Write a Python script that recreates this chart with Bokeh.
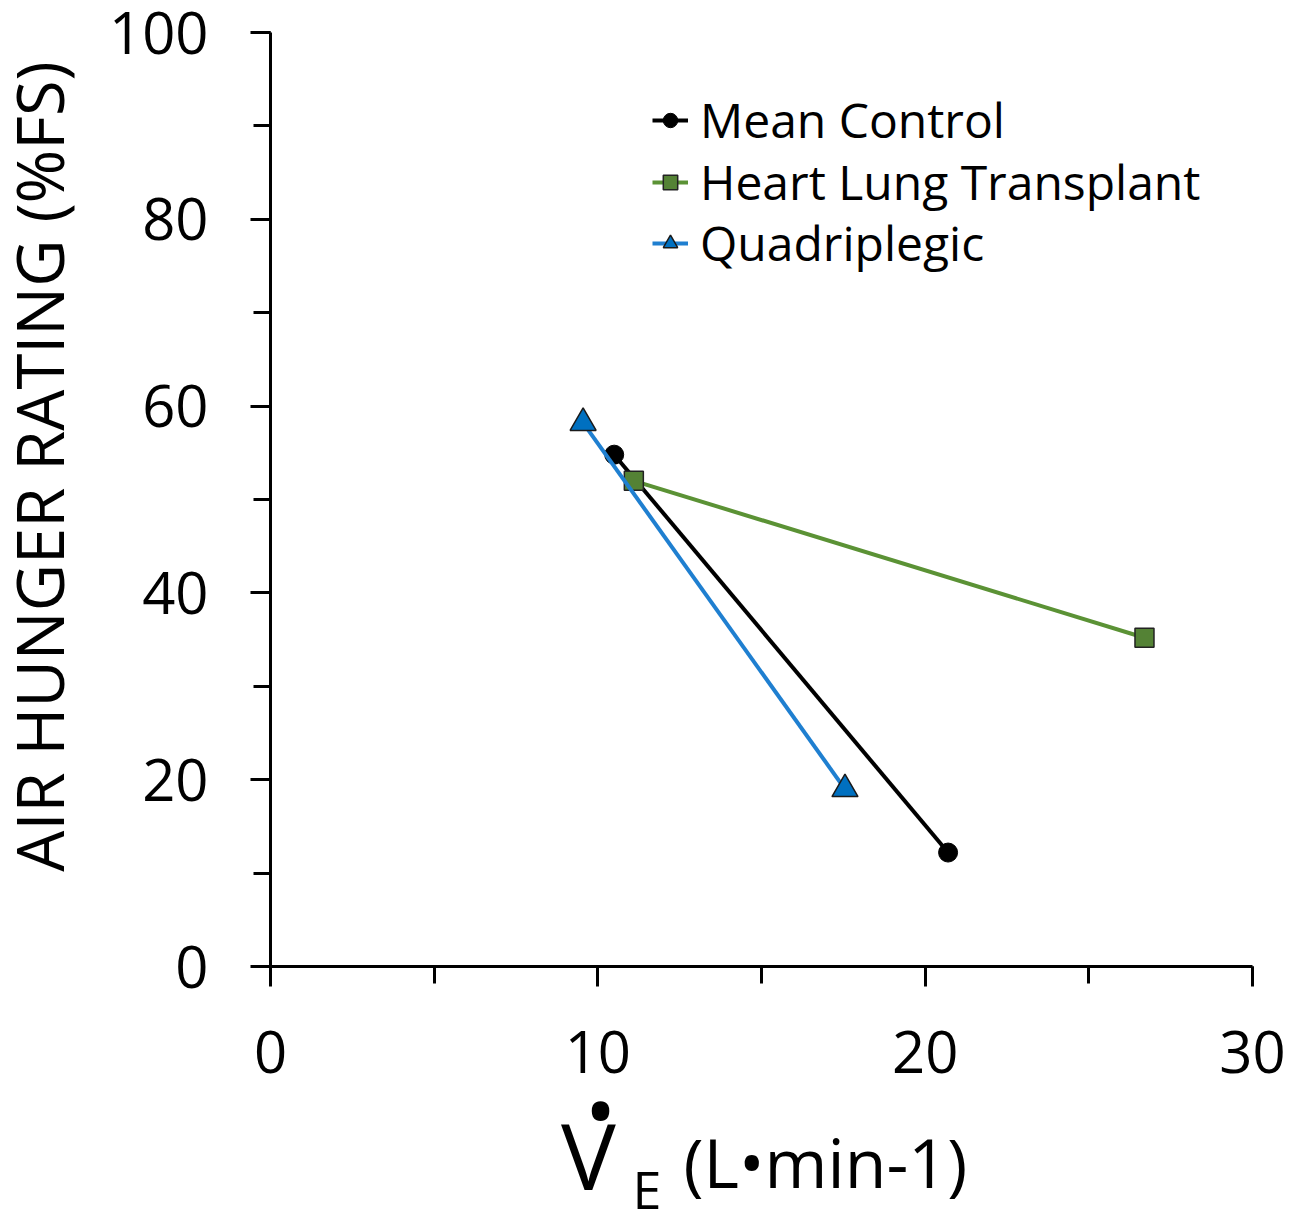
import math
from bokeh.plotting import figure
from bokeh.models import Range1d, SingleIntervalTicker, Label, Legend, LegendItem
from bokeh.embed import file_html
from bokeh.resources import INLINE

FONT = "Open Sans"

# data
control_x = [10.5, 20.7]
control_y = [54.8, 12.2]
hlt_x = [11.1, 26.7]
hlt_y = [52.0, 35.2]
quad_x = [9.55, 17.55]
quad_y = [58.2, 19.0]
series_names = ["Mean Control", "Heart Lung Transplant", "Quadriplegic"]

x_ticks_interval = 10
y_ticks_interval = 20
x_lo, x_hi = 0, 30
y_lo, y_hi = 0, 100

# geometry: the frame fills the whole canvas; axes sit at x=0 / y=0
W, H = 1303, 1216
AX_L, AX_R, AX_T, AX_B = 270, 1252, 32, 966     # pixel box of the axes
sx = (AX_R - AX_L) / (x_hi - x_lo)
sy = (AX_B - AX_T) / (y_hi - y_lo)
xr = Range1d(x_lo - AX_L / sx, x_hi + (W - AX_R) / sx)
yr = Range1d(y_lo - (H - AX_B) / sy, y_hi + AX_T / sy)

def dx(px):
    return xr.start + px / sx
def dy(py):
    return yr.end - py / sy

p = figure(width=W, height=H, frame_width=W, frame_height=H,
           x_range=xr, y_range=yr,
           output_backend="svg", toolbar_location=None, title=None,
           min_border=0, min_border_left=0, min_border_right=0,
           min_border_top=0, min_border_bottom=0)
p.outline_line_color = None
p.xgrid.visible = False
p.ygrid.visible = False
p.background_fill_color = "white"
p.border_fill_color = "white"

p.xaxis.ticker = SingleIntervalTicker(interval=x_ticks_interval, num_minor_ticks=2)
p.yaxis.ticker = SingleIntervalTicker(interval=y_ticks_interval, num_minor_ticks=2)
p.xaxis.fixed_location = y_lo
p.yaxis.fixed_location = x_lo
p.xaxis.bounds = (x_lo, x_hi)
p.yaxis.bounds = (y_lo, y_hi)
for ax in (p.xaxis, p.yaxis):
    ax.axis_line_width = 3
    ax.axis_line_color = "black"
    ax.major_tick_line_width = 3
    ax.minor_tick_line_width = 3
    ax.major_tick_line_color = "black"
    ax.minor_tick_line_color = "black"
    ax.major_tick_in = 0
    ax.minor_tick_in = 0
    ax.major_tick_out = 20
    ax.minor_tick_out = 17
    ax.major_label_text_font = FONT
    ax.major_label_text_font_size = "58px"
    ax.major_label_text_color = "black"
p.yaxis.major_label_standoff = 42
p.xaxis.major_label_standoff = 44

r_c = p.line(control_x, control_y, line_color="black", line_width=4)
s_c = p.scatter(control_x, control_y, marker="circle", size=19, fill_color="black", line_color="black")
r_h = p.line(hlt_x, hlt_y, line_color="#5B9235", line_width=4)
s_h = p.scatter(hlt_x, hlt_y, marker="square", size=19, fill_color="#548235", line_color="#222222", line_width=1.5)
r_q = p.line(quad_x, quad_y, line_color="#1F7FD0", line_width=4)
s_q = p.scatter(quad_x, quad_y, marker="triangle", size=26, fill_color="#0070C0", line_color="#1a1a1a", line_width=1.5)

# one single-item legend per row so the rows can sit as close as in the reference
LEG_FS = 48
row_centres = [119, 181, 242]          # canvas px of each legend row
half_h = LEG_FS * 1.362 / 2
for name, rends, cy in zip(series_names, [[r_c, s_c], [r_h, s_h], [r_q, s_q]], row_centres):
    lg = Legend(items=[LegendItem(label=name, renderers=rends)],
                location=(652, int(round(H - cy - half_h))))
    lg.label_text_font = FONT
    lg.label_text_font_size = f"{LEG_FS}px"
    lg.label_text_color = "black"
    lg.border_line_color = None
    lg.background_fill_alpha = 0
    lg.glyph_width = 36
    lg.glyph_height = 40
    lg.label_standoff = 12
    lg.padding = 0
    lg.margin = 0
    p.add_layout(lg)

# axis titles (alphabetic baseline is drawn ~0.39 em low, so lift it)
def base(py, fs):
    return dy(py - 0.39 * fs)

p.add_layout(Label(x=dx(38), y=dy(466), text="AIR HUNGER RATING (%FS)", angle=math.pi / 2,
                   text_font=FONT, text_font_size="65px", text_align="center",
                   text_baseline="middle", text_color="black"))
p.add_layout(Label(x=dx(588), y=base(1190, 92), text="V", text_font=FONT, text_font_size="92px",
                   text_align="center", text_baseline="alphabetic", text_color="black"))
p.add_layout(Label(x=dx(600), y=base(1142, 84), text="\u2022", text_font=FONT, text_font_size="84px",
                   text_align="center", text_baseline="alphabetic", text_color="black"))
p.add_layout(Label(x=dx(632), y=base(1208, 52), text="E", text_font=FONT, text_font_size="52px",
                   text_align="left", text_baseline="alphabetic", text_color="black"))
p.add_layout(Label(x=dx(683), y=base(1188, 68), text="(L\u2022min-1)", text_font=FONT, text_font_size="68px",
                   text_align="left", text_baseline="alphabetic", text_color="black"))

open("out.html", "w").write(file_html(p, INLINE))
